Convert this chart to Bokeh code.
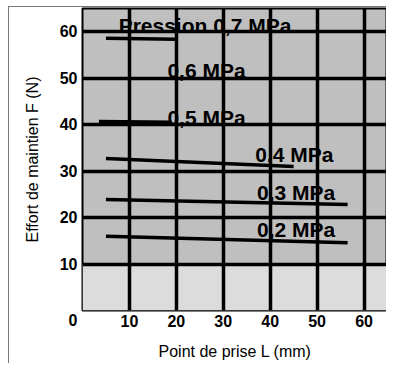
from bokeh.plotting import figure
from bokeh.models import FixedTicker, BoxAnnotation, ColumnDataSource
from bokeh.core.properties import value
from bokeh.embed import file_html
from bokeh.resources import INLINE

# --- data ---
curve_names = ["0,7 MPa", "0,5 MPa", "0,4 MPa", "0,3 MPa", "0,2 MPa"]
curve_L = [[5, 20], [3.5, 19], [5, 45], [5, 56.5], [5, 56.5]]
curve_F = [[58.6, 58.4], [40.7, 40.5], [32.7, 31.0], [23.9, 22.8], [16.0, 14.6]]

label_text = ["Pression 0,7 MPa", "0,6 MPa", "0,5 MPa", "0,4 MPa", "0,3 MPa", "0,2 MPa"]
label_L = [7.7, 18.1, 18.1, 36.8, 37.2, 37.2]
label_F = [61.4, 51.7, 41.6, 33.6, 25.4, 17.5]

x_ticks = [10, 20, 30, 40, 50, 60]
y_ticks = [0, 10, 20, 30, 40, 50, 60]
grid_ticks = [10, 20, 30, 40, 50, 60]

FONT = "Liberation Sans"

p = figure(width=378, height=357, x_range=(0, 65), y_range=(0, 65),
           output_backend="svg", toolbar_location=None,
           min_border_left=73, min_border_right=0, min_border_top=1,
           min_border_bottom=54)
p.styles = {"margin-left": "8px", "margin-top": "6px",
            "border-left": "1px solid #777", "border-top": "1px solid #777"}

p.background_fill_color = "#bfbfbf"
p.border_fill_color = "white"
p.outline_line_color = "black"
p.outline_line_width = 2

band = BoxAnnotation(bottom=0, top=10, fill_color="#dcdcdc", fill_alpha=1.0,
                     line_color=None, level="image")
p.add_layout(band)

for g in (p.xgrid, p.ygrid):
    g.ticker = FixedTicker(ticks=grid_ticks)
    g.grid_line_color = "black"
    g.grid_line_width = 3.5

p.xaxis.ticker = FixedTicker(ticks=x_ticks)
p.yaxis.ticker = FixedTicker(ticks=y_ticks)
# the corner "0" sits below the frame's bottom-left corner
p.yaxis.major_label_overrides = {0: "\n0"}
for ax in (p.xaxis, p.yaxis):
    ax.axis_line_color = None
    ax.major_tick_line_color = None
    ax.minor_tick_line_color = None
    ax.major_tick_out = 0
    ax.major_tick_in = 0
    ax.major_label_text_font = FONT
    ax.major_label_text_font_size = "16px"
    ax.major_label_text_font_style = "bold"
    ax.major_label_text_color = "black"
    ax.axis_label_text_font = FONT
    ax.axis_label_text_font_size = "16px"
    ax.axis_label_text_font_style = "normal"
    ax.axis_label_text_color = "black"
p.xaxis.major_label_standoff = 4
p.yaxis.major_label_standoff = 5
p.xaxis.axis_label = "Point de prise L (mm)"
p.yaxis.axis_label = "Effort de maintien F (N)"
p.xaxis.axis_label_standoff = 13
p.yaxis.axis_label_standoff = 16

for L, F in zip(curve_L, curve_F):
    p.line(L, F, line_color="black", line_width=3.5)

src = ColumnDataSource(dict(x=label_L, y=label_F, t=label_text))
p.text(x="x", y="y", text="t", source=src, text_font=value(FONT),
       text_font_size="21px", text_font_style="bold", text_align="left",
       text_baseline="middle", text_color="black")

open("out.html", "w").write(file_html(p, INLINE))
